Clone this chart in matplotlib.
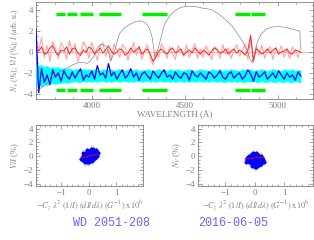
import numpy as np
import matplotlib
matplotlib.use('Agg')
import matplotlib.pyplot as plt
from matplotlib.ticker import MultipleLocator

plt.rcParams['font.family'] = 'Liberation Serif'
plt.rcParams['mathtext.fontset'] = 'stix'

GRAY = '#808080'

wl = np.arange(3700, 5126, 15)

nv = [0.3, 0.1, 0.5, -0.2, -0.1, 0.4, 0.6, 0.0, -0.3, 0.2,
      0.1, 0.5, -0.2, 0.3, 0.4, -0.1, -0.3, 0.2, 0.0, 0.5,
      0.3, -0.2, 0.1, 0.4, -0.1, 0.2, 0.6, 0.1, -0.2, 0.0,
      0.3, 0.2, -0.3, -0.1, 0.4, 0.0, 0.2, 0.5, -0.2, 0.1,
      0.3, -0.2, -0.9, -0.5, 0.1, 0.3, 0.0, -0.2, 0.2, 0.4,
      -0.1, 0.1, 0.3, -0.3, 0.0, 0.2, -0.1, 0.4, 0.1, -0.2,
      0.2, 0.0, -0.3, 0.1, 0.4, 0.2, -0.1, 0.0, 0.3, -0.2,
      0.1, 0.3, -0.1, 0.2, 0.0, -0.3, 0.2, 1.6, -0.8, 0.3,
      0.1, -0.2, 0.0, 0.3, -0.1, 0.2, 0.4, -0.2, 0.0, 0.1,
      0.3, -0.1, -0.2, 0.2, 0.1, 0.0]

nv_raw = [1.2, 0.2, 1.4, -0.5, 0.6, -0.9, 1.0, 0.3, -0.6, 0.9,
          0.4, -0.7, 1.1, 0.0, 0.8, -0.9, -0.2, 1.0, 0.5, -0.6,
          0.9, 0.1, -0.8, 0.6, 0.9, -0.4, 0.3, -0.7, 0.8, 0.2,
          -0.5, 0.7, 0.4, -0.8, 0.1, 0.9, -0.3, 0.5, -0.7, 0.2,
          0.7, -0.6, -1.2, 0.1, -0.5, 0.8, 0.3, -0.6, 0.5, -0.2,
          -0.7, 0.6, 0.1, -0.4, 0.7, -0.5, 0.2, 0.8, -0.6, 0.3,
          -0.5, 0.6, 0.0, -0.7, 0.5, 0.3, -0.6, 0.7, -0.2, 0.4,
          -0.6, 0.2, 0.7, -0.4, 0.1, 0.8, -0.7, 1.3, -1.0, 0.6,
          -0.3, 0.7, -0.6, 0.2, 0.5, -0.7, 0.4, -0.1, 0.6, -0.5,
          0.3, -0.6, 0.5, 0.0, -0.5, 0.4]

vi = [2.2, -3.9, -1.6, -2.9, -2.2, -3.1, -1.7, -2.4, -2.0, -2.8,
      -1.8, -2.3, -2.6, -1.9, -2.5, -2.0, -1.6, -2.7, -2.2, -2.4,
      -1.8, -2.6, -1.3, -2.2, -2.0, -2.5, -1.1, -2.3, -1.9, -2.6,
      -2.1, -1.7, -2.5, -2.2, -1.6, -2.4, -2.0, -2.7, -2.1, -1.9,
      -2.3, -2.6, -1.8, -2.2, -2.5, -2.0, -1.7, -2.4, -2.2, -2.6,
      -1.9, -2.3, -2.5, -2.0, -2.1, -2.7, -1.8, -2.2, -2.4, -2.0,
      -2.3, -2.6, -1.9, -2.1, -2.5, -2.2, -1.8, -2.4, -2.6, -2.1,
      -1.9, -2.5, -2.2, -2.0, -2.6, -2.3, -1.7, -2.1, -2.8, -1.9,
      -2.4, -2.2, -1.9, -2.6, -2.3, -2.0, -2.5, -1.8, -2.2, -2.6,
      -2.0, -2.4, -2.2, -2.7, -1.9, -2.3]

# null-profile envelope (cyan band)
null_hi = [-1.2, -1.3, -1.2, -1.4, -1.3, -1.5, -1.4, -1.5, -1.4, -1.6,
           -1.5, -1.6, -1.5, -1.7, -1.6, -1.6, -1.7, -1.6, -1.7, -1.6,
           -1.7, -1.6, -1.7, -1.8, -1.6, -1.7, -1.7, -1.6, -1.8, -1.7,
           -1.6, -1.7, -1.8, -1.6, -1.7, -1.7, -1.6, -1.8, -1.7, -1.7,
           -1.6, -1.7, -1.8, -1.7, -1.6, -1.7, -1.7, -1.8, -1.6, -1.7,
           -1.7, -1.6, -1.8, -1.7, -1.7, -1.6, -1.7, -1.8, -1.7, -1.6,
           -1.7, -1.7, -1.8, -1.6, -1.7, -1.7, -1.6, -1.8, -1.7, -1.7,
           -1.6, -1.7, -1.7, -1.8, -1.6, -1.7, -1.7, -1.6, -1.8, -1.7,
           -1.7, -1.6, -1.7, -1.8, -1.7, -1.6, -1.7, -1.7, -1.8, -1.6,
           -1.7, -1.7, -1.6, -1.8, -1.7, -1.7]
null_lo = [-3.3, -3.2, -3.3, -3.1, -3.2, -3.1, -3.0, -3.1, -3.0, -3.0,
           -2.9, -3.0, -2.9, -2.9, -2.8, -2.9, -2.9, -2.8, -2.9, -2.8,
           -2.9, -2.8, -2.9, -2.8, -2.8, -2.9, -2.8, -2.9, -2.8, -2.8,
           -2.9, -2.8, -2.8, -2.9, -2.8, -2.9, -2.8, -2.8, -2.9, -2.8,
           -2.8, -2.9, -2.8, -2.9, -2.8, -2.8, -2.9, -2.8, -2.9, -2.8,
           -2.9, -2.8, -2.8, -2.9, -2.8, -2.9, -2.8, -2.9, -2.8, -2.8,
           -2.9, -2.8, -2.9, -2.8, -2.8, -2.9, -2.8, -2.9, -2.9, -2.8,
           -2.9, -2.8, -2.9, -2.8, -2.9, -2.9, -2.8, -2.9, -2.8, -2.9,
           -2.9, -2.8, -2.9, -2.9, -2.8, -2.9, -2.9, -2.8, -2.9, -2.9,
           -2.8, -2.9, -2.9, -2.8, -2.9, -2.9]

flux_wl = [3700, 3730, 3760, 3790, 3815, 3840, 3870, 3900, 3930, 3960,
           3975, 3990, 4010, 4030, 4045, 4060, 4075, 4090, 4102, 4115,
           4130, 4150, 4175, 4200, 4230, 4260, 4290, 4310, 4325, 4340,
           4355, 4370, 4390, 4420, 4450, 4480, 4520, 4560, 4600, 4640,
           4680, 4720, 4760, 4790, 4815, 4835, 4850, 4862, 4875, 4890,
           4910, 4940, 4970, 5000, 5030, 5060, 5090, 5120, 5122]
flux = [-3.8, -3.4, -3.0, -2.5, -2.0, -1.8, -1.5, -1.2, -1.0, -1.0,
        -1.1, -0.9, -0.4, 0.4, 0.7, 0.7, 0.6, 0.0, -0.9, -0.3,
        0.6, 1.8, 2.3, 2.6, 2.9, 3.0, 2.8, 2.3, 1.4, -0.5,
        0.2, 1.2, 2.6, 3.5, 4.0, 4.3, 4.4, 4.35, 4.2, 4.1,
        3.7, 3.1, 2.4, 1.6, 0.9, 0.2, -0.6, -1.0, -0.3, 0.9,
        1.7, 2.2, 2.4, 2.45, 2.4, 2.3, 2.15, 2.0, 0.5]

# wavelength ranges used for the field measurement
mask_start = [3807, 3868, 3936, 4041, 4268, 4769, 4857]
mask_end = [3855, 3919, 4007, 4156, 4405, 4849, 4930]

# ---- regression data ----
dx_v = [-0.22, 0.05, 0.12, -0.08, 0.18, -0.15, 0.02, 0.25, -0.03, 0.10,
        -0.18, 0.07, 0.30, -0.10, 0.15, -0.05, 0.20, 0.00, -0.25, 0.09,
        0.13, -0.12, 0.04, 0.27, -0.07, 0.17, -0.20, 0.01, 0.22, -0.14,
        0.06, 0.11, -0.02, 0.33, -0.09, 0.19, -0.16, 0.03, 0.14, -0.06,
        0.24, -0.11, 0.08, -0.28, 0.16, 0.00, 0.21, -0.04, 0.12, -0.17,
        0.28, -0.08, 0.05, 0.18, -0.13, 0.10, -0.01, 0.26, -0.19, 0.07,
        0.15, -0.06, 0.02, 0.23, -0.10, 0.13, -0.23, 0.09, 0.31, -0.03]
v_pts = [-0.6, 0.4, -0.2, 0.8, 0.5, -0.9, 0.1, 0.3, -0.4, 0.9,
         0.2, -0.5, 0.6, -0.1, 1.0, 0.6, -0.3, 0.0, -0.2, 0.5,
         -0.7, 0.3, 0.8, 0.9, -0.6, 0.1, 0.4, -0.8, 0.2, -0.3,
         0.7, -0.1, 0.5, 0.4, 0.2, 0.7, -0.5, -0.3, 0.3, 0.0,
         -0.1, -0.2, 1.1, -0.4, -0.4, 0.6, 0.8, 0.3, 0.0, -0.7,
         0.2, 0.9, -0.6, 0.5, 0.1, 0.4, -0.5, 0.6, -0.1, -0.2,
         0.9, -0.8, 0.3, -0.2, 0.5, -0.4, 0.1, 0.7, 0.0, -0.9]
dx_n = [-0.15, 0.08, 0.20, -0.05, 0.12, -0.25, 0.03, 0.18, -0.10, 0.06,
        0.28, -0.18, 0.00, 0.14, -0.07, 0.22, -0.12, 0.09, -0.30, 0.16,
        0.02, -0.20, 0.11, -0.03, 0.25, -0.14, 0.05, 0.19, -0.09, 0.13,
        -0.22, 0.07, 0.30, -0.01, 0.17, -0.16, 0.04, -0.27, 0.10, 0.23,
        -0.06, 0.15, -0.11, 0.01, 0.21, -0.19, 0.08, -0.04, 0.26, -0.13,
        0.12, -0.08, 0.03, 0.18, -0.23, 0.06, -0.02, 0.14, -0.17, 0.24,
        0.00, -0.10, 0.09, -0.26, 0.16, -0.05, 0.11, -0.15, 0.04, 0.20]
n_pts = [-0.4, -0.9, 0.1, -1.2, -0.2, -0.6, 0.4, -0.8, -1.4, -0.3,
         -0.5, 0.0, -1.0, -0.7, -0.1, -1.1, -0.4, 0.3, -0.8, -0.5,
         -1.5, -0.2, -0.9, 0.2, -0.6, -1.0, -0.3, -0.1, -0.7, -1.3,
         -0.4, 0.0, -0.8, -0.6, -1.0, 0.1, -1.2, -0.3, -0.5, -0.9,
         0.5, -0.7, -0.2, -1.1, -0.4, -0.8, -1.4, -0.5, -0.2, -0.6,
         0.2, -1.0, -0.3, -0.7, -0.1, -1.2, -0.4, -0.9, -0.5, -0.3,
         -0.6, 0.3, -1.1, -0.4, -0.8, -0.2, -0.5, -0.7, -1.6, -0.1]
fit_v = (1.0, 0.0)      # slope, intercept
fit_n = (0.32, -0.25)

star = 'WD 2051-208'
date = '2016-06-05'


def style(ax):
    for s in ax.spines.values():
        s.set_color(GRAY)
        s.set_linewidth(0.6)
    ax.tick_params(which='both', direction='in', top=True, right=True,
                   colors=GRAY, labelsize=6.5, width=0.5, pad=2)
    ax.tick_params(which='major', length=3)
    ax.tick_params(which='minor', length=1.5)


fig = plt.figure(figsize=(3.14, 2.40), dpi=100)

# ---- top panel ----
ax = fig.add_axes([0.1146, 0.5875, 0.882, 0.404])
ax.axhline(0, color='#ff6666', lw=0.4, zorder=1)
ax.plot(wl, nv_raw, color='#ffaaaa', lw=0.9, zorder=2)
ax.plot(wl, nv, color='#ff2020', lw=0.7, zorder=3)
ax.fill_between(wl, null_lo, null_hi, color='#00ffff', lw=0, zorder=4)
ax.plot(wl, vi, color='#0000ff', lw=0.9, zorder=5)
ax.plot(flux_wl, flux, color='#707070', lw=0.4, zorder=6)
for a, b in zip(mask_start, mask_end):
    ax.plot([a, b], [3.7, 3.7], color='#00ee00', lw=2.5, solid_capstyle='butt', zorder=7)
    ax.plot([a, b], [-3.6, -3.6], color='#00ee00', lw=2.5, solid_capstyle='butt', zorder=7)
ax.set_xlim(3700, 5190)
ax.set_ylim(-4.5, 4.8)
ax.xaxis.set_major_locator(MultipleLocator(500))
ax.xaxis.set_minor_locator(MultipleLocator(100))
ax.yaxis.set_major_locator(MultipleLocator(2))
ax.yaxis.set_minor_locator(MultipleLocator(0.5))
style(ax)
ax.set_xlabel('WAVELENGTH (Å)', fontsize=6.5, color=GRAY, labelpad=1)
ax.set_ylabel(r'$N_V$ (%); $V/I$ (%); $I$ (arb. u.)', fontsize=5.5, color=GRAY, labelpad=2)

# ---- bottom panels ----
xlab = r'$-C_z\ \lambda^2\ (1/I)\ (dI/d\lambda)\ (G^{-1})\ \mathrm{x}10^6$'
panels = [([0.1146, 0.225, 0.3408, 0.254], dx_v, v_pts, fit_v, r'$V/I$ (%)'),
          ([0.6306, 0.225, 0.3662, 0.254], dx_n, n_pts, fit_n, r'$N_V$ (%)')]
for pos, xs, ys, fit, ylab in panels:
    b = fig.add_axes(pos)
    b.errorbar(xs, ys, xerr=0.1, yerr=0.45, fmt='o', ms=2.8, color='#0000ff',
               ecolor='#9999ff', elinewidth=0.5, capsize=0, mew=0, zorder=2)
    fx = np.array([min(xs), max(xs)])
    b.plot(fx, fit[0] * fx + fit[1], color='#ff0000', lw=0.6, zorder=3)
    b.set_xlim(-1.93, 1.98)
    b.set_ylim(-4.3, 4.5)
    b.xaxis.set_major_locator(MultipleLocator(1))
    b.xaxis.set_minor_locator(MultipleLocator(0.2))
    b.yaxis.set_major_locator(MultipleLocator(2))
    b.yaxis.set_minor_locator(MultipleLocator(0.5))
    style(b)
    b.set_xlabel(xlab, fontsize=6, color=GRAY, labelpad=1)
    b.set_ylabel(ylab, fontsize=6, color=GRAY, labelpad=2)

fig.text(0.232, 0.07, star, fontsize=8.5, color='#6666ff', family='Liberation Mono', va='center')
fig.text(0.63, 0.07, date, fontsize=8.5, color='#6666ff', family='Liberation Mono', va='center')

fig.savefig('out.png', dpi=100)
